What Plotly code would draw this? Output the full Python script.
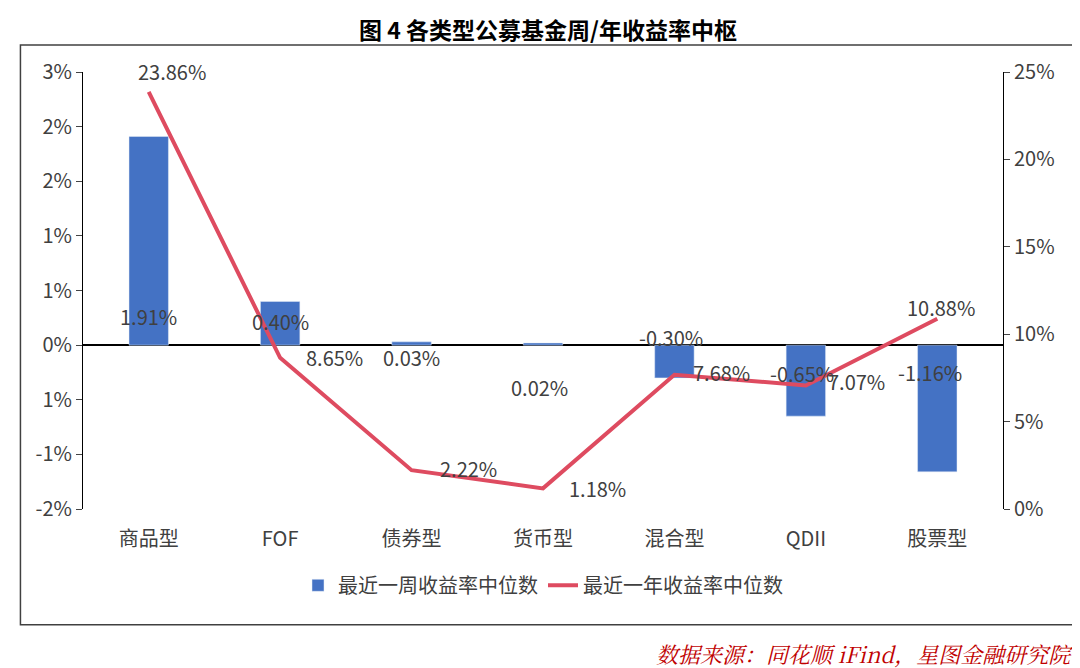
import plotly.graph_objects as go

categories = ["商品型", "FOF", "债券型", "货币型", "混合型", "QDII", "股票型"]
week_median = [1.91, 0.40, 0.03, 0.02, -0.30, -0.65, -1.16]
year_median = [23.86, 8.65, 2.22, 1.18, 7.68, 7.07, 10.88]
left_ticks = [-1.5, -1.0, -0.5, 0, 0.5, 1.0, 1.5, 2.0, 2.5]
left_labels = ["-2%", "-1%", "1%", "0%", "1%", "1%", "2%", "2%", "3%"]
right_ticks = [0, 5, 10, 15, 20, 25]

font = "Noto Sans CJK SC"
fig = go.Figure()
fig.add_trace(go.Bar(x=categories, y=week_median, name="最近一周收益率中位数",
                     marker_color="#4472C4", width=0.3))
fig.add_trace(go.Scatter(x=categories, y=year_median, name="最近一年收益率中位数",
                         mode="lines", line=dict(color="#DE4B60", width=4), yaxis="y2"))

# data label offsets (pixels from the data point)
bar_off = [(0, -180), (0, -20), (0, -16), (-4, -45), (-3, 40), (-4, 43), (-7, 99)]
for c, v, (dx, dy) in zip(categories, week_median, bar_off):
    fig.add_annotation(x=c, y=v, text=f"{v:.2f}%", showarrow=False, xshift=dx,
                       yshift=dy, font=dict(size=20, color="#404040"))
line_off = [(23, 20), (54, 0), (57, 2), (54, 0), (47, 2), (51, 4), (4, 11)]
for c, v, (dx, dy) in zip(categories, year_median, line_off):
    fig.add_annotation(x=c, y=v, yref="y2", text=f"{v:.2f}%", showarrow=False,
                       xshift=dx, yshift=dy, font=dict(size=20, color="#404040"))

fig.add_shape(type="rect", xref="paper", yref="paper", x0=-0.068, x1=1.079,
              y0=-0.265, y1=1.062, line=dict(color="#404040", width=1.5))
fig.add_annotation(xref="paper", yref="paper", x=1.079, y=-0.29, xanchor="right",
                   yanchor="top", showarrow=False,
                   text="<i>数据来源：同花顺 iFind，星图金融研究院</i>",
                   font=dict(size=22, color="#C00000", family="Noto Serif CJK SC, " + font))

fig.update_layout(
    width=1080, height=668, plot_bgcolor="white", paper_bgcolor="white",
    margin=dict(l=75, r=85, t=64, b=167, autoexpand=False),
    font=dict(family=font, size=20, color="#404040"),
    title=dict(text="<b>图 4 各类型公募基金周/年收益率中枢</b>", x=0.5, y=0.965,
               yanchor="middle", xanchor="center", font=dict(size=23, color="black")),
    showlegend=True,
    legend=dict(orientation="h", x=0.5, xanchor="center", y=-0.13, yanchor="top",
                font=dict(size=20)),
    xaxis=dict(showline=False, ticks="", tickfont=dict(size=20), automargin=False,
               ticklabelstandoff=16),
    yaxis=dict(range=[-1.5, 2.5], tickvals=left_ticks, ticktext=left_labels, automargin=False,
               showgrid=False, zeroline=True, zerolinecolor="black", zerolinewidth=1.5,
               showline=True, linecolor="black", ticks="outside", ticklen=6),
    yaxis2=dict(range=[0, 25], overlaying="y", side="right", tickvals=right_ticks,
                ticktext=[f"{t}%" for t in right_ticks], automargin=False,
                showgrid=False, zeroline=False, showline=True,
                linecolor="black", ticks="outside", ticklen=6),
)
fig.write_html("out.html")
